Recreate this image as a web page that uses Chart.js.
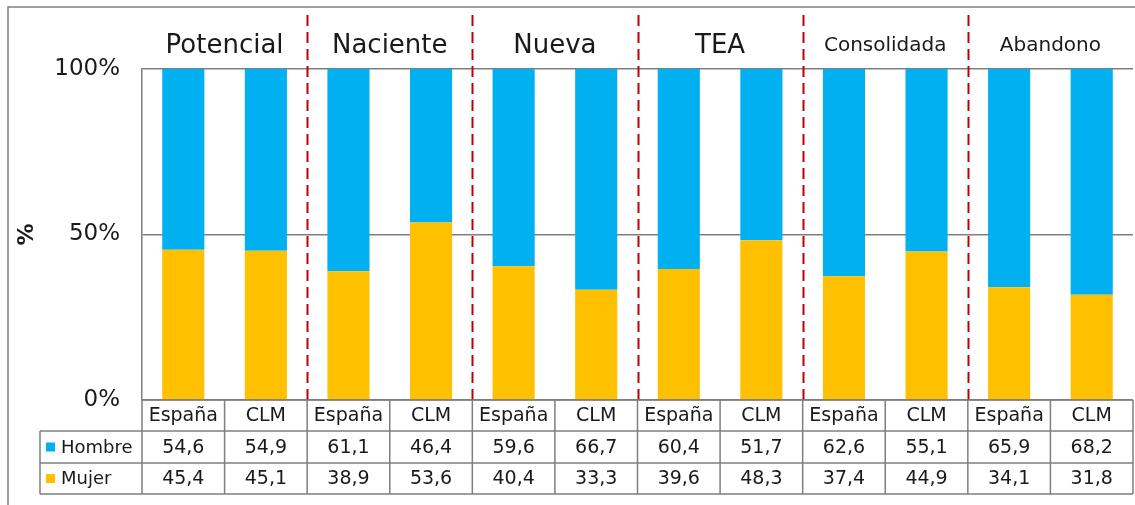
<!DOCTYPE html>
<html>
<head>
<meta charset="utf-8">
<script src="https://cdn.jsdelivr.net/npm/chart.js@4"></script>
<style>
  html, body { margin: 0; padding: 0; background: #fff; }
</style>
</head>
<body>
<canvas id="chart" width="1135" height="505"></canvas>
<script>
// Categories (bars) and groups
var categories = ['España', 'CLM', 'España', 'CLM', 'España', 'CLM', 'España', 'CLM', 'España', 'CLM', 'España', 'CLM'];
var groups = ['Potencial', 'Naciente', 'Nueva', 'TEA', 'Consolidada', 'Abandono'];
var groupFontSizes = [26, 26, 26, 26, 20, 20];

// Series values (%)
var hombre = [54.6, 54.9, 61.1, 46.4, 59.6, 66.7, 60.4, 51.7, 62.6, 55.1, 65.9, 68.2];
var mujer = [45.4, 45.1, 38.9, 53.6, 40.4, 33.3, 39.6, 48.3, 37.4, 44.9, 34.1, 31.8];

var yTicks = [0, 50, 100];

var FONT = '"DejaVu Sans", sans-serif';
var BLUE = '#00B0F0';
var YELLOW = '#FFC000';
var LINE = '#7f7f7f';

function fmt(v) {
    return v.toFixed(1).replace('.', ',');
}

// Draws frame, group titles, red dashed separators and the data table
var extrasPlugin = {
    id: 'extras',
    afterDraw: function (chart) {
        var ctx = chart.ctx;
        var x = chart.scales.x;
        var area = chart.chartArea;
        var step = (area.right - area.left) / categories.length;
        ctx.save();

        // outer frame
        ctx.strokeStyle = LINE;
        ctx.lineWidth = 1.5;
        ctx.beginPath();
        ctx.moveTo(8, 505);
        ctx.lineTo(8, 7);
        ctx.lineTo(1135, 7);
        ctx.stroke();

        // group titles
        ctx.fillStyle = '#1a1a1a';
        ctx.textAlign = 'center';
        ctx.textBaseline = 'middle';
        groups.forEach(function (g, i) {
            var cx = (x.getPixelForValue(i * 2) + x.getPixelForValue(i * 2 + 1)) / 2;
            ctx.font = groupFontSizes[i] + 'px ' + FONT;
            ctx.fillText(g, cx, 46);
        });

        // red dashed separators
        ctx.strokeStyle = '#C00000';
        ctx.lineWidth = 2;
        ctx.setLineDash([11, 6]);
        for (var i = 1; i < groups.length; i++) {
            var sx = Math.round(area.left + step * i * 2) + 0.5;
            ctx.beginPath();
            ctx.moveTo(sx, 15);
            ctx.lineTo(sx, area.bottom);
            ctx.stroke();
        }
        ctx.setLineDash([]);

        // data table
        var rowTop = [area.bottom, 431, 463];
        var rowBot = [431, 463, 494];
        var legendLeft = 40;
        ctx.strokeStyle = LINE;
        ctx.lineWidth = 1.5;

        // horizontal lines
        ctx.beginPath();
        ctx.moveTo(area.left, rowTop[0]);
        ctx.lineTo(area.right, rowTop[0]);
        ctx.moveTo(legendLeft, rowTop[1]);
        ctx.lineTo(area.right, rowTop[1]);
        ctx.moveTo(legendLeft, rowTop[2]);
        ctx.lineTo(area.right, rowTop[2]);
        ctx.moveTo(legendLeft, rowBot[2]);
        ctx.lineTo(area.right, rowBot[2]);
        // vertical lines
        ctx.moveTo(legendLeft, rowTop[1]);
        ctx.lineTo(legendLeft, rowBot[2]);
        for (var c = 0; c <= categories.length; c++) {
            var vx = area.left + step * c;
            ctx.moveTo(vx, rowTop[0]);
            ctx.lineTo(vx, rowBot[2]);
        }
        ctx.stroke();

        // cell text
        ctx.fillStyle = '#1a1a1a';
        ctx.font = '19px ' + FONT;
        ctx.textAlign = 'center';
        categories.forEach(function (cat, i) {
            var cx = x.getPixelForValue(i);
            ctx.fillText(cat, cx, (rowTop[0] + rowBot[0]) / 2 + 1);
            ctx.fillText(fmt(hombre[i]), cx, (rowTop[1] + rowBot[1]) / 2 + 1);
            ctx.fillText(fmt(mujer[i]), cx, (rowTop[2] + rowBot[2]) / 2 + 1);
        });

        // legend keys
        var rows = [['Hombre', BLUE], ['Mujer', YELLOW]];
        ctx.textAlign = 'left';
        ctx.font = '18px ' + FONT;
        rows.forEach(function (r, i) {
            var cy = (rowTop[i + 1] + rowBot[i + 1]) / 2;
            ctx.fillStyle = r[1];
            ctx.fillRect(46, cy - 4.5, 9, 9);
            ctx.fillStyle = '#1a1a1a';
            ctx.fillText(r[0], 61, cy + 1);
        });

        ctx.restore();
    }
};

var ctx = document.getElementById('chart').getContext('2d');
var myChart = new Chart(ctx, {
    type: 'bar',
    data: {
        labels: categories,
        datasets: [{
            label: 'Mujer',
            data: mujer,
            backgroundColor: YELLOW,
            categoryPercentage: 1,
            barPercentage: 0.51
        },
        {
            label: 'Hombre',
            data: hombre,
            backgroundColor: BLUE,
            categoryPercentage: 1,
            barPercentage: 0.51
        }]
    },
    options: {
        responsive: false,
        animation: false,
        devicePixelRatio: 1,
        layout: {
            padding: { top: 69, bottom: 105, left: 0, right: 2 }
        },
        plugins: {
            legend: { display: false },
            tooltip: { enabled: false }
        },
        scales: {
            x: {
                stacked: true,
                display: false
            },
            y: {
                stacked: true,
                min: 0,
                max: 100,
                afterFit: function (scale) { scale.width = 142; },
                afterBuildTicks: function (scale) {
                    scale.ticks = yTicks.map(function (v) { return { value: v }; });
                },
                ticks: {
                    padding: 22,
                    color: '#1a1a1a',
                    font: { family: FONT, size: 23 },
                    callback: function (v) { return v + '%'; }
                },
                grid: {
                    color: LINE,
                    lineWidth: 1.5,
                    drawTicks: false
                },
                border: { color: LINE, width: 1.5 },
                title: {
                    display: true,
                    text: '%',
                    color: '#1a1a1a',
                    font: { family: FONT, size: 22, weight: 'bold' },
                    padding: { top: 14, bottom: 0 }
                }
            }
        }
    },
    plugins: [extrasPlugin]
});
</script>
</body>
</html>
